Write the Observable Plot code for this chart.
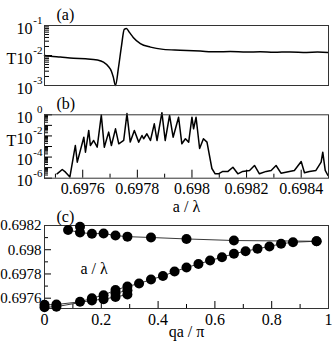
<!DOCTYPE html>
<html><head><meta charset="utf-8">
<script src="https://cdn.jsdelivr.net/npm/d3@7"></script>
<script src="https://cdn.jsdelivr.net/npm/@observablehq/plot@0.6"></script>
<style>
html,body{margin:0;padding:0;background:#fff;}
#chart{position:relative;width:332px;height:346px;overflow:hidden;background:#fff;}
</style></head><body><div id="chart"></div>
<script>
// ---------- Panel (a): T vs a/lambda ----------
const aPanelA = [0.697460,0.697482,0.697518,0.697566,0.697610,0.697654,0.697676,0.697694,0.697705,0.697712,0.697720,0.697731,0.697742,0.697752,0.697760,0.697771,0.697785,0.697811,0.697848,0.697895,0.697957,0.698030,0.698090,0.698140,0.698200,0.698250,0.698300,0.698359,0.698420,0.698460,0.698498];
const tPanelA = [1.0e-2,9.5e-3,8.9e-3,8.1e-3,7.8e-3,7.1e-3,6.0e-3,4.3e-3,3.0e-3,1.9e-3,1.0e-3,4.0e-3,2.1e-2,7.4e-2,7.9e-2,5.9e-2,4.0e-2,2.5e-2,1.9e-2,1.6e-2,1.5e-2,1.4e-2,1.33e-2,1.36e-2,1.3e-2,1.34e-2,1.28e-2,1.32e-2,1.27e-2,1.3e-2,1.26e-2];
const yTicksA = [1e-3, 1e-2, 1e-1];
const yMinorA = [2e-3,3e-3,4e-3,5e-3,6e-3,7e-3,8e-3,9e-3,2e-2,3e-2,4e-2,5e-2,6e-2,7e-2,8e-2,9e-2];

// ---------- Panel (b): T vs a/lambda ----------
const aPanelB = [0.697506,0.697525,0.697537,0.697553,0.697573,0.697580,0.697604,0.697610,0.697622,0.697628,0.697640,0.697653,0.697668,0.697679,0.697695,0.697705,0.697720,0.697732,0.697750,0.697762,0.697774,0.697789,0.697805,0.697817,0.697823,0.697835,0.697848,0.697862,0.697872,0.697890,0.697902,0.697918,0.697931,0.697951,0.697963,0.697976,0.697988,0.698000,0.698006,0.698015,0.698028,0.698042,0.698055,0.698073,0.698085,0.698097,0.698113,0.698132,0.698150,0.698168,0.698186,0.698211,0.698229,0.698247,0.698272,0.698290,0.698308,0.698326,0.698357,0.698375,0.698400,0.698412,0.698430,0.698454,0.698473,0.698479,0.698488,0.698498];
const tPanelB = [2.6e-6,6.7e-6,3.7e-6,1.3e-6,1.25e-3,3.3e-5,7.6e-3,2.9e-4,3.3e-2,1.25e-3,3.7e-3,8.6e-4,0.95,8.6e-4,2.3e-2,1.25e-3,4.7e-2,1.8e-3,3.7e-3,1.3,2.6e-3,3.3e-2,2.6e-3,1.1e-2,5.4e-3,1.6e-2,3.7e-3,0.14,3.7e-3,1.6,3.7e-3,0.86,7.6e-3,0.59,1.8e-3,5.4e-3,2.6e-3,0.59,4.7e-2,0.59,6.5e-4,5.4e-3,2.6e-3,8.3e-6,2.6e-6,2.6e-6,4.4e-6,4.4e-6,1.1e-5,2.6e-6,4.4e-6,5.4e-6,1.6e-5,2.6e-6,4.4e-6,5.4e-6,1.6e-5,3.0e-6,4.4e-6,5.4e-6,3.8e-5,3.3e-6,4.4e-6,5.4e-6,3.3e-5,2.9e-4,5.4e-6,1.8e-6];
const yTicksB = [1e-6,1e-5,1e-4,1e-3,1e-2,1e-1,1];
const yLabelsB = [1, 1e-2, 1e-4, 1e-6];
const yMinorB = [2e-6,3e-6,4e-6,5e-6,6e-6,7e-6,8e-6,9e-6,2e-5,3e-5,4e-5,5e-5,6e-5,7e-5,8e-5,9e-5,2e-4,3e-4,4e-4,5e-4,6e-4,7e-4,8e-4,9e-4,2e-3,3e-3,4e-3,5e-3,6e-3,7e-3,8e-3,9e-3,2e-2,3e-2,4e-2,5e-2,6e-2,7e-2,8e-2,9e-2,2e-1,3e-1,4e-1,5e-1,6e-1,7e-1,8e-1,9e-1];
const xTicksAB = [0.6976, 0.6978, 0.698, 0.6982, 0.6984];
const xMinorAB = [0.6975, 0.6977, 0.6979, 0.6981, 0.6983];

// ---------- Panel (c): a/lambda vs qa/pi ----------
const qUpper = [0.083,0.125,0.167,0.208,0.25,0.292,0.375,0.5,0.667,0.958];
const fUpper = [0.698163,0.698142,0.698132,0.698134,0.698117,0.698108,0.698101,0.698089,0.698076,0.698070];
const qUpperExtra = [0.125];
const fUpperExtra = [0.698189];
const qLowerMain = [0,0.042,0.125,0.167,0.208,0.25,0.292,0.333,0.375,0.417,0.458,0.5,0.542,0.583,0.625,0.667,0.708,0.75,0.792,0.833,0.875,0.958];
const fLowerMain = [0.697545,0.697548,0.697570,0.697600,0.697625,0.697668,0.697697,0.697721,0.697754,0.697783,0.697820,0.697853,0.697882,0.697911,0.697938,0.697967,0.697988,0.698008,0.698027,0.698049,0.698062,0.698070];
const qLowerB = [0,0.042,0.167,0.208,0.25,0.292];
const fLowerB = [0.697525,0.697530,0.697582,0.697592,0.697610,0.697630];
const qLowerC = [0.25,0.292];
const fLowerC = [0.697640,0.697665];
const xTicksC = [0,0.2,0.4,0.6,0.8,1];
const xMinorC = [0.1,0.3,0.5,0.7,0.9];
const yTicksC = [0.6976,0.6978,0.698,0.6982];
const yMinorC = [0.6977,0.6979,0.6981];

// ---------- layout ----------
const W = 332, ML = 44, MR = 4, FW = W - ML - MR;
const FONT = "Liberation Serif, DejaVu Serif, serif";
const baseStyle = {fontFamily: FONT, fontSize: "16px", background: "transparent", overflow: "visible", color: "#000"};
const chart = document.getElementById("chart");
function place(svg, top) {
  svg.style.position = "absolute";
  svg.style.left = "0px";
  svg.style.top = top + "px";
  chart.append(svg);
}
const zipObj = (xs, ys) => xs.map((x, i) => ({x, y: ys[i]}));
const xDomainAB = [0.69746, 0.6985];

function logLabels(values) {
  return [
    Plot.text(values, {y: d => d, frameAnchor: "left", text: () => "10", textAnchor: "end", dx: -12, dy: 3}),
    Plot.text(values, {y: d => d, frameAnchor: "left", text: d => String(Math.round(Math.log10(d))), textAnchor: "end", dx: -2, dy: -5, fontSize: 11})
  ];
}

// Panel A
const A = Plot.plot({
  width: W, height: 90, marginLeft: ML, marginRight: MR, marginTop: 25, marginBottom: 5,
  style: baseStyle,
  x: {domain: xDomainAB, axis: null},
  y: {type: "log", domain: [1e-3, 1e-1], axis: null},
  marks: [
    Plot.tickY(yMinorA, {y: d => d, insetRight: FW - 5, stroke: "#000"}),
    Plot.tickY(yTicksA, {y: d => d, insetRight: FW - 8, stroke: "#000"}),
    Plot.line(zipObj(aPanelA, tPanelA), {x: "x", y: "y", stroke: "#000", strokeWidth: 1.5, curve: "monotone-x"}),
    Plot.frame({stroke: "#333"}),
    ...logLabels(yTicksA),
    Plot.text(["T"], {frameAnchor: "left", dx: -38, dy: 3, text: d => d}),
    Plot.text(["(a)"], {frameAnchor: "top-left", dx: 12, dy: -17, text: d => d})
  ]
});
place(A, 0);

// Panel B
const FHB = 63.4;
const B = Plot.plot({
  width: W, height: 128, marginLeft: ML, marginRight: MR, marginTop: 24.3, marginBottom: 40.3,
  style: baseStyle,
  x: {domain: xDomainAB, ticks: xTicksAB, tickSize: 0, tickPadding: 4, tickFormat: d => String(d), label: null},
  y: {type: "log", domain: [1e-6, 1], axis: null},
  marks: [
    Plot.tickY(yMinorB, {y: d => d, insetRight: FW - 4, stroke: "#000"}),
    Plot.tickY(yTicksB, {y: d => d, insetRight: FW - 8, stroke: "#000"}),
    Plot.tickX(xMinorAB, {x: d => d, insetTop: FHB - 4, stroke: "#000"}),
    Plot.tickX(xTicksAB, {x: d => d, insetTop: FHB - 8, stroke: "#000"}),
    Plot.line(zipObj(aPanelB, tPanelB), {x: "x", y: "y", stroke: "#000", strokeWidth: 1.5}),
    Plot.frame({stroke: "#333"}),
    ...logLabels(yLabelsB),
    Plot.text(["T"], {frameAnchor: "left", dx: -38, dy: -6, text: d => d}),
    Plot.text(["(b)"], {frameAnchor: "top-left", dx: 12, dy: -17, text: d => d}),
    Plot.text(["a / \u03bb"], {frameAnchor: "bottom", dy: 34, text: d => d})
  ]
});
place(B, 90);

// Panel C
const FHC = 83;
const C = Plot.plot({
  width: W, height: 146, marginLeft: ML, marginRight: MR, marginTop: 25, marginBottom: 38,
  style: baseStyle,
  x: {domain: [0, 1], ticks: xTicksC, tickSize: 0, tickPadding: 5, tickFormat: d => String(d), label: null},
  y: {domain: [0.697515, 0.6982], axis: null},
  marks: [
    Plot.tickX(xMinorC, {x: d => d, insetTop: FHC - 4, stroke: "#000"}),
    Plot.tickX(xTicksC, {x: d => d, insetTop: FHC - 7, stroke: "#000"}),
    Plot.tickY(yMinorC, {y: d => d, insetRight: FW - 4, stroke: "#000"}),
    Plot.tickY(yTicksC, {y: d => d, insetRight: FW - 7, stroke: "#000"}),
    Plot.frame({stroke: "#333"}),
    Plot.text(yTicksC, {y: d => d, frameAnchor: "left", text: d => String(d), textAnchor: "end", dx: -3, fontSize: 15}),
    Plot.line(zipObj(qUpper, fUpper), {x: "x", y: "y", stroke: "#222", strokeWidth: 0.9}),
    Plot.line(zipObj(qLowerMain, fLowerMain), {x: "x", y: "y", stroke: "#222", strokeWidth: 0.9}),
    Plot.line(zipObj(qLowerB, fLowerB), {x: "x", y: "y", stroke: "#222", strokeWidth: 0.9}),
    Plot.line(zipObj(qLowerC, fLowerC), {x: "x", y: "y", stroke: "#222", strokeWidth: 0.9}),
    Plot.dot(zipObj(qUpper, fUpper), {x: "x", y: "y", r: 5, fill: "#000"}),
    Plot.dot(zipObj(qUpperExtra, fUpperExtra), {x: "x", y: "y", r: 5, fill: "#000"}),
    Plot.dot(zipObj(qLowerMain, fLowerMain), {x: "x", y: "y", r: 5, fill: "#000"}),
    Plot.dot(zipObj(qLowerB, fLowerB), {x: "x", y: "y", r: 5, fill: "#000"}),
    Plot.dot(zipObj(qLowerC, fLowerC), {x: "x", y: "y", r: 5, fill: "#000"}),
    Plot.text(["(c)"], {frameAnchor: "top-left", dx: 12, dy: -15, text: d => d}),
    Plot.text(["a / \u03bb"], {frameAnchor: "top-left", dx: 36, dy: 37, text: d => d}),
    Plot.text(["qa / \u03c0"], {frameAnchor: "bottom", dy: 28, text: d => d})
  ]
});
place(C, 200);
</script></body></html>
